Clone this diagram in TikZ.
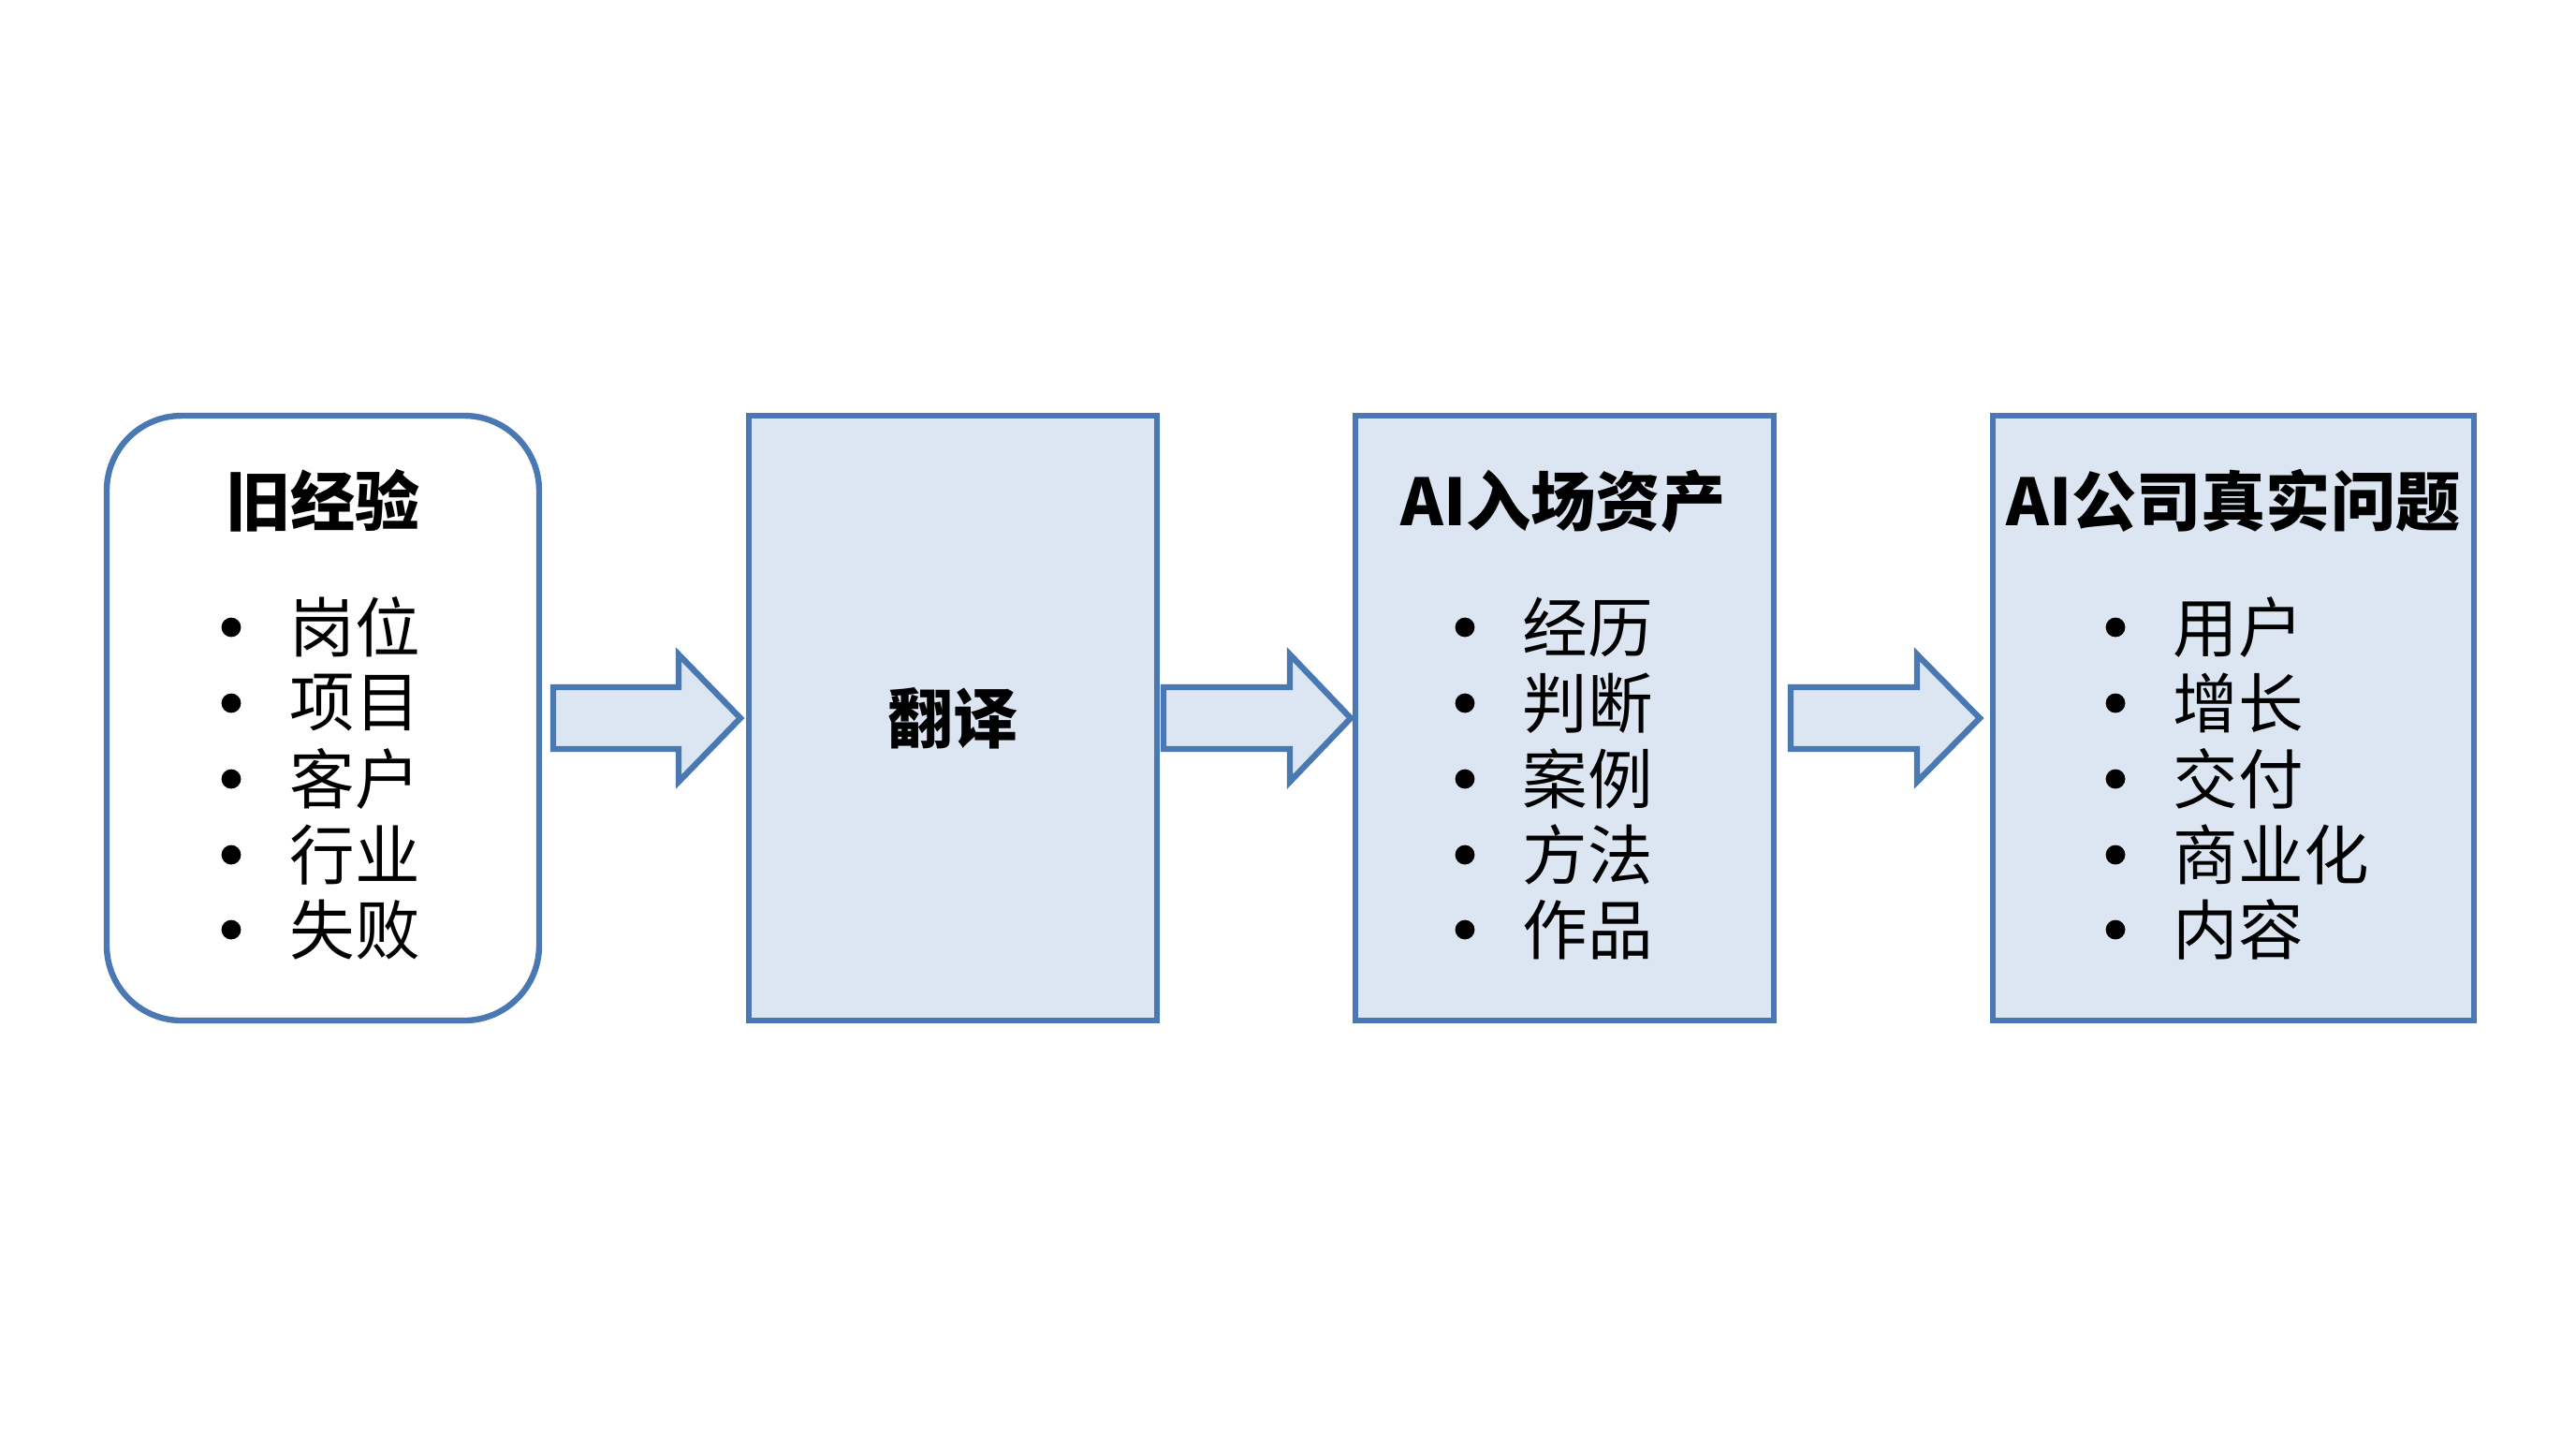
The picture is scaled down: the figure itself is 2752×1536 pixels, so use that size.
\documentclass[tikz,border=0pt]{standalone}
\usepackage{fontspec}
\newfontfamily\cjk{Noto Sans CJK SC}
\newfontfamily\cjkb{Noto Sans CJK SC Black}
\definecolor{bord}{HTML}{4A78B2}
\definecolor{lfill}{HTML}{DCE6F2}
\tikzset{
  panel/.style={draw=bord, line width=1.6pt},
  title/.style={font=\cjkb\fontsize{17.3}{20}\selectfont, anchor=center, inner sep=0pt},
  item/.style={font=\cjk\fontsize{17.4}{20}\selectfont, anchor=west, inner sep=0pt},
  bul/.style={circle, fill=black, inner sep=0pt, minimum size=5.2pt},
  bigarrow/.style={draw=bord, fill=lfill, line width=1.6pt, line join=miter}
}
\begin{document}
\begin{tikzpicture}[x=0.25pt, y=-0.25pt]
\useasboundingbox (0,0) rectangle (2752,1536);
\fill[white] (0,0) rectangle (2752,1536);
% boxes
\draw[panel, fill=white, rounded corners=20pt] (114,444) rectangle (576,1090);
\draw[panel, fill=lfill] (800,444) rectangle (1236,1090);
\draw[panel, fill=lfill] (1448,444) rectangle (1895,1090);
\draw[panel, fill=lfill] (2129,444) rectangle (2643,1090);
% titles
\node[title] (t1) at (345,535) {旧经验};
\node[title] (t2) at (1018,767) {翻译};
\node[title] (t3) at (1670,535) {AI入场资产};
\node[title] (t4) at (2386,535) {AI公司真实问题};
% items
\foreach \y/\t [count=\i] in {670/岗位,751/项目,832/客户,913/行业,993/失败}{
  \node[bul] (p\i) at (247,\y) {};
  \node[item] (q\i) at (309,\y) {\t};
}
\foreach \y/\t [count=\i] in {670/经历,751/判断,832/案例,913/方法,993/作品}{
  \node[bul] (r\i) at (1565,\y) {};
  \node[item] (s\i) at (1626,\y) {\t};
}
\foreach \y/\t [count=\i] in {670/用户,751/增长,832/交付,913/商业化,993/内容}{
  \node[bul] (u\i) at (2260,\y) {};
  \node[item] (v\i) at (2321,\y) {\t};
}
% arrows
\draw[bigarrow] (591,734) -- (725,734) -- (725,699) -- (791,767) -- (725,835) -- (725,800) -- (591,800) -- cycle;
\draw[bigarrow] (1243,734) -- (1378,734) -- (1378,699) -- (1443,767) -- (1378,835) -- (1378,800) -- (1243,800) -- cycle;
\draw[bigarrow] (1913,734) -- (2048,734) -- (2048,699) -- (2115,767) -- (2048,835) -- (2048,800) -- (1913,800) -- cycle;
\end{tikzpicture}
\end{document}
